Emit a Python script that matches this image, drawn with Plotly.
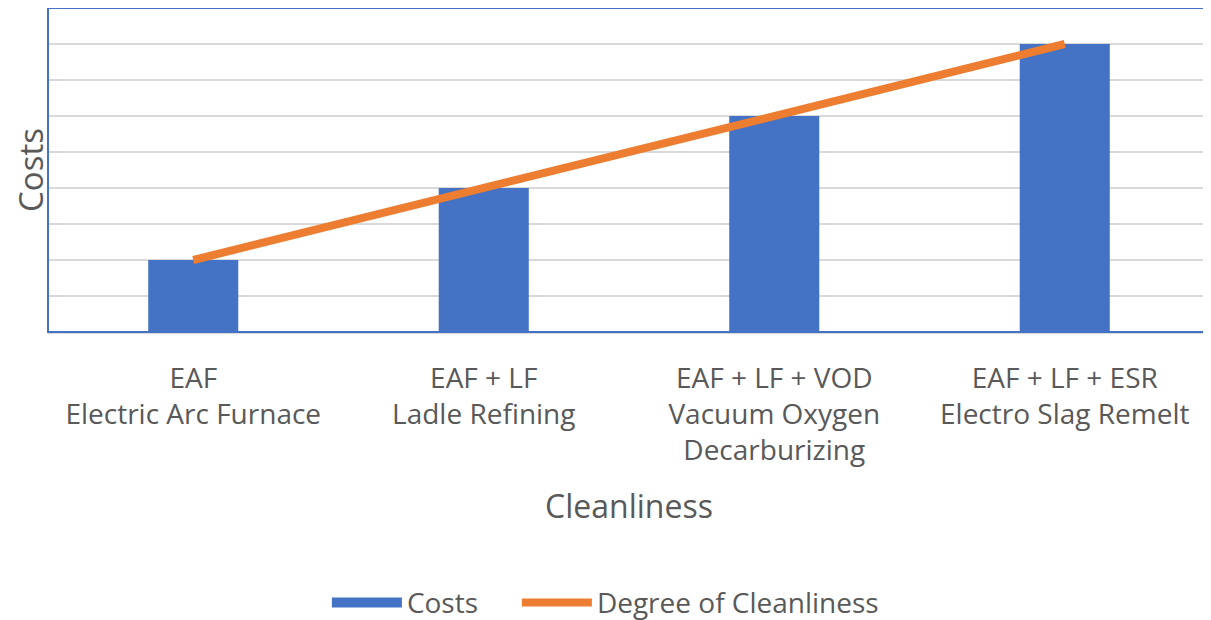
import plotly.graph_objects as go

categories = [
    "EAF<br>Electric Arc Furnace",
    "EAF + LF<br>Ladle Refining",
    "EAF + LF + VOD<br>Vacuum Oxygen<br>Decarburizing",
    "EAF + LF + ESR<br>Electro Slag Remelt",
]
costs = [2, 4, 6, 8]
cleanliness = [2, 4, 6, 8]

FONT = "Open Sans"
GRAY = "#595959"
BLUE = "#4472C4"
ORANGE = "#ED7D31"

fig = go.Figure()
fig.add_trace(go.Bar(
    x=categories, y=costs, name="Costs",
    marker=dict(color=BLUE, line=dict(width=0)),
    width=0.31, showlegend=False,
))
# legend entry for the bars (wide swatch like the reference)
fig.add_trace(go.Scatter(
    x=[categories[0]], y=[None], name="Costs", mode="lines",
    line=dict(color=BLUE, width=18), hoverinfo="skip", legendwidth=105,
))
fig.add_trace(go.Scatter(
    x=categories, y=cleanliness, name="Degree of Cleanliness",
    mode="lines", line=dict(color=ORANGE, width=8),
))

fig.update_layout(
    width=1203, height=612,
    margin=dict(l=40, r=1, t=0, b=288, autoexpand=False),
    paper_bgcolor="white", plot_bgcolor="white",
    font=dict(family=FONT, color=GRAY, size=28),
    showlegend=True,
    legend=dict(orientation="h", x=0.24, xanchor="left", y=-0.836, yanchor="middle",
                font=dict(size=28, color=GRAY), itemwidth=70, traceorder="normal"),
    xaxis=dict(
        title=dict(text="Cleanliness", font=dict(size=32, color=GRAY), standoff=28),
        tickfont=dict(size=28, color=GRAY),
        showline=True, linecolor="#D9D9D9", linewidth=2,
        showgrid=False, ticks="", ticklabelstandoff=20, automargin=False,
    ),
    yaxis=dict(
        title=dict(text="Costs", font=dict(size=33, color=GRAY), standoff=21),
        range=[0, 9], dtick=1, showticklabels=False,
        showgrid=True, gridcolor="#D9D9D9", gridwidth=2,
        zeroline=False, showline=False, ticks="", automargin=False,
    ),
    shapes=[dict(type="rect", xref="paper", yref="paper", x0=0, x1=1, y0=0, y1=1,
                 line=dict(color=BLUE, width=2), fillcolor="rgba(0,0,0,0)", layer="above")],
)

fig.write_html("out.html")
